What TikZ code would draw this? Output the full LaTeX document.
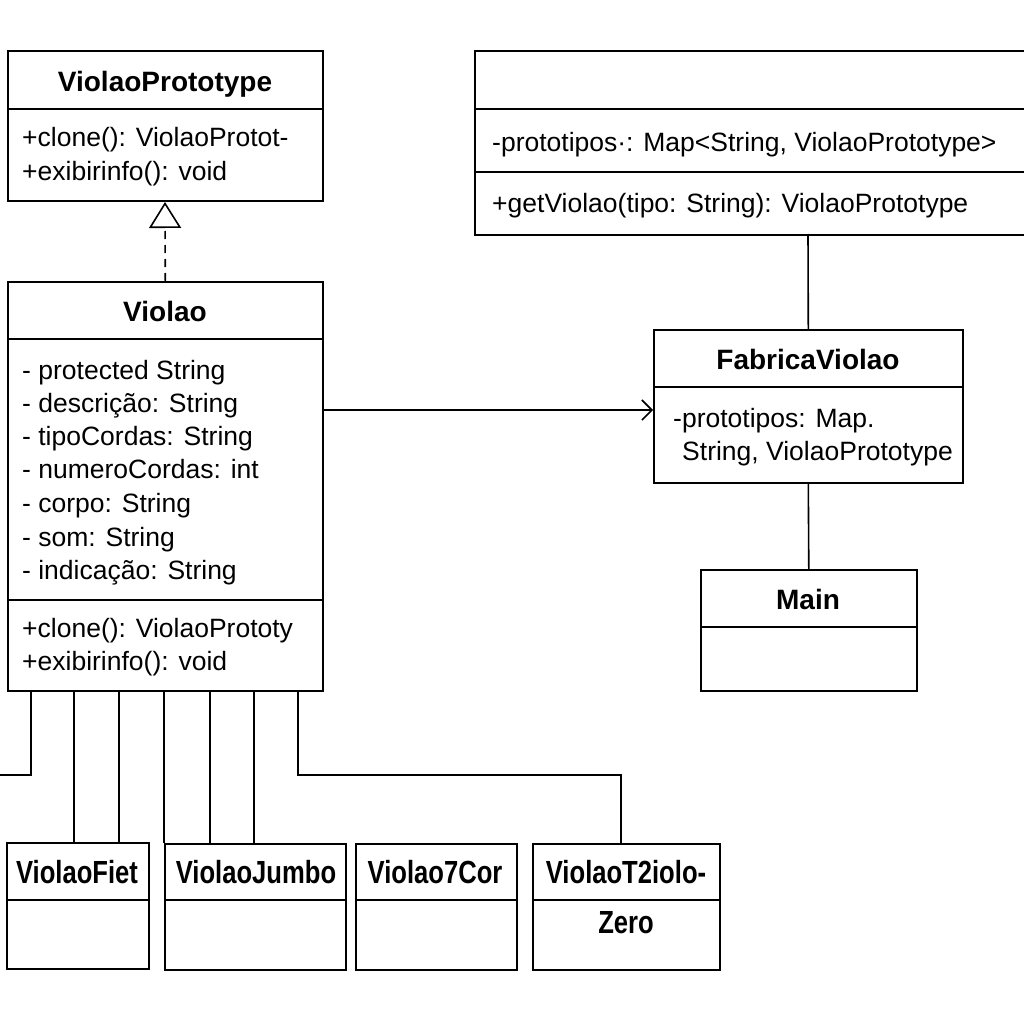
\documentclass[tikz,border=0pt]{standalone}
\usepackage{fontspec}
\setmainfont{Liberation Sans}
\newfontfamily\narrowfont[FakeStretch=0.8]{Liberation Sans}
\usetikzlibrary{arrows.meta}
\begin{document}
\begin{tikzpicture}[x=1pt,y=-1pt,
  ln/.style={line width=1.6pt},
  box/.style={draw,line width=1.6pt,anchor=north west,inner sep=0pt},
  title/.style={font=\fontsize{28}{34}\selectfont\bfseries,inner sep=0pt,anchor=mid,yshift=-7pt},
  body/.style={font=\fontsize{26.5}{31}\selectfont,inner sep=0pt,anchor=mid west,yshift=-7pt},
  small/.style={font=\narrowfont\fontsize{32}{38}\selectfont\bfseries,inner sep=0pt,anchor=mid,yshift=-8pt}]
\useasboundingbox[fill=white] (0,0) rectangle (1024,1024);

% ViolaoPrototype
\node[box,minimum width=315pt,minimum height=150pt] (proto) at (7,50) {};
\draw[ln] (7,109) -- (322,109);
\node[title] (protoT) at (165,82) {ViolaoPrototype};
\node[body] (protoM1) at (22,137) {+clone(): ViolaoProtot-};
\node[body] (protoM2) at (22,171) {+exibirinfo(): void};

% Violao
\node[box,minimum width=315pt,minimum height=409pt] (violao) at (7,281) {};
\draw[ln] (7,339) -- (322,339);
\draw[ln] (7,600) -- (322,600);
\node[title] (violaoT) at (165,312) {Violao};
\node[body] (va1) at (22,370) {- protected String};
\node[body] (va2) at (22,403) {- descrição: String};
\node[body] (va3) at (22,436) {- tipoCordas: String};
\node[body] (va4) at (22,469) {- numeroCordas: int};
\node[body] (va5) at (22,503) {- corpo: String};
\node[body] (va6) at (22,537) {- som: String};
\node[body] (va7) at (22,570) {- indicação: String};
\node[body] (vm1) at (22,628) {+clone(): ViolaoPrototy};
\node[body] (vm2) at (22,661) {+exibirinfo(): void};

% realization
\draw[ln,dashed,dash pattern=on 8pt off 6pt,-{Triangle[open,length=26pt,width=32pt,line width=1.6pt]}] (violao.north) -- (165,202);

% top right box
\node[box,minimum width=560pt,minimum height=184pt] (repo) at (474,50) {};
\draw[ln] (474,109) -- (1034,109);
\draw[ln] (474,172) -- (1034,172);
\node[body] (repoA) at (492,142) {-prototipos·: Map<String, ViolaoPrototype>};
\node[body] (repoM) at (492,203) {+getViolao(tipo: String): ViolaoPrototype};

% FabricaViolao
\node[box,minimum width=309pt,minimum height=153pt] (fab) at (653,329) {};
\draw[ln] (653,387) -- (962,387);
\node[title] (fabT) at (808,360) {FabricaViolao};
\node[body] (fabA1) at (673,418) {-prototipos: Map.};
\node[body] (fabA2) at (682,451) {String, ViolaoPrototype};

% Main
\node[box,minimum width=216pt,minimum height=121pt] (main) at (700,569) {};
\draw[ln] (700,627) -- (916,627);
\node[title] (mainT) at (808,600) {Main};

\draw[ln] (808,234) -- (fab.north);
\draw[ln] (fab.south) -- (main.north);
\draw[ln,-{Straight Barb[length=10pt,width=20pt,line width=1.6pt]}] (violao.east |- 0,410) -- (fab.west |- 0,410);

% bottom boxes
\node[box,minimum width=142pt,minimum height=126pt] (fiet) at (6,842) {};
\draw[ln] (6,900) -- (148,900);
\node[small] (fietT) at (77,873) {ViolaoFiet};
\node[box,minimum width=181pt,minimum height=126pt] (jumbo) at (164,843) {};
\draw[ln] (164,900) -- (345,900);
\node[small] (jumboT) at (256,873) {ViolaoJumbo};
\node[box,minimum width=161pt,minimum height=126pt] (cor) at (355,843) {};
\draw[ln] (355,900) -- (516,900);
\node[small] (corT) at (435,873) {Violao7Cor};
\node[box,minimum width=187pt,minimum height=126pt] (t2) at (532,843) {};
\draw[ln] (532,900) -- (719,900);
\node[small] (t2T) at (626,873) {ViolaoT2iolo-};
\node[small] (t2Z) at (626,923) {Zero};

% inheritance lines
\coordinate (l0) at (31,690);
\coordinate (l0e) at (-5,775);
\draw[ln] (l0) |- (l0e);
\draw[ln] (74,690) -- (74,842);
\draw[ln] (119,690) -- (119,842);
\draw[ln] (164,690) -- (jumbo.north west);
\draw[ln] (210,690) -- (210,843);
\draw[ln] (254,690) -- (254,843);
\coordinate (t2in) at (621,843);
\draw[ln] (298,690) -- (298,775) -| (t2in);
\end{tikzpicture}
\end{document}
